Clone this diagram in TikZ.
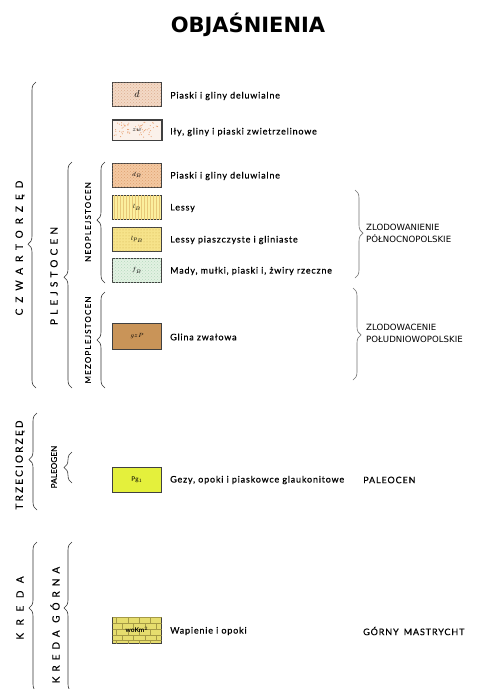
\documentclass[tikz,border=0pt]{standalone}
\usepackage{fontspec}
\setmainfont{Lato}
\newfontfamily\verd{DejaVu Sans}
\newfontfamily\lab[LetterSpace=9,FakeBold=0.4]{Lato}
\newfontfamily\capsA[LetterSpace=60,FakeBold=0.4]{Lato}
\newfontfamily\capsB[LetterSpace=42,FakeBold=0.4]{Lato}
\newfontfamily\capsC[LetterSpace=15,FakeBold=0.4]{Lato}
\newfontfamily\capsD[LetterSpace=22,FakeBold=0.4]{Lato}
\newfontfamily\capsE[LetterSpace=76,FakeBold=0.4]{Lato}
\newfontfamily\capsF[LetterSpace=50,FakeBold=0.4]{Lato}
\newfontfamily\capsG[LetterSpace=10,FakeBold=0.4]{Lato}
\newfontfamily\capsH[LetterSpace=2,FakeBold=0.4]{Lato}
\usetikzlibrary{decorations.pathreplacing,patterns}
\definecolor{cd}{HTML}{F3D9C6}
\definecolor{cdp}{HTML}{DDAE90}
\definecolor{czw}{HTML}{FBF1EA}
\definecolor{czwp}{HTML}{E8A070}
\definecolor{cdb}{HTML}{F4C9A2}
\definecolor{cdbp}{HTML}{DDA070}
\definecolor{clb}{HTML}{FBEF9E}
\definecolor{clbp}{HTML}{E8C878}
\definecolor{clpb}{HTML}{F6E38A}
\definecolor{clpbp}{HTML}{D2B050}
\definecolor{cfb}{HTML}{E2F2E2}
\definecolor{cfbp}{HTML}{B5D8BE}
\definecolor{cgz}{HTML}{C99458}
\definecolor{cpg}{HTML}{E4F03C}
\definecolor{cwo}{HTML}{E6DD6E}
\definecolor{cwop}{HTML}{A59A45}
\begin{document}
\begin{tikzpicture}[x=1pt,y=-1pt,
  legbox/.style={draw=black!75,line width=0.6pt,minimum width=49pt,minimum height=24pt,inner sep=0pt,font=\fontsize{6.5}{6.5}\selectfont},
  desc/.style={anchor=west,inner sep=0pt,font=\lab\fontsize{9}{10}\selectfont},
  lbr/.style={decorate,decoration={brace,amplitude=8pt,aspect=#1},draw=black!80,line width=0.6pt},
  rbr/.style={decorate,decoration={brace,amplitude=8pt,aspect=#1},draw=black!55,line width=0.6pt},
  rlab/.style={anchor=west,inner sep=0pt,align=left,font=\verd\fontsize{8.6}{12}\selectfont},
  vlab/.style={rotate=90,inner sep=0pt}
]
\useasboundingbox (0,0) rectangle (477,689);
\fill[white] (0,0) rectangle (477,689);

% title
\node[font=\verd\bfseries\fontsize{21}{21}\selectfont] (title) at (248,25) {OBJAŚNIENIA};

% boxes
\node[legbox,fill=cd,postaction={pattern=crosshatch dots,pattern color=cdp}] (b1) at (137,94.5) {};
\node at (b1) {$d$};
\node[desc] (t1) at (170,96) {Piaski i gliny deluwialne};

\node[legbox,minimum height=20pt,fill=czw] (b2) at (137,130) {};
\pgfmathsetseed{11}
\foreach \i in {1,...,60}{
  \pgfmathsetmacro\rx{114+45*rnd}
  \pgfmathsetmacro\ry{122+16*rnd}
  \fill[czwp] (\rx,\ry) circle (0.55);
}
\draw[draw=black!75,line width=0.6pt] (b2.north west) rectangle (b2.south east);
\node[font=\fontsize{6.5}{6.5}\selectfont] at (b2) {$zw$};
\node[desc] (t2) at (170,132) {Iły, gliny i piaski zwietrzelinowe};

\node[legbox,fill=cdb,postaction={pattern=crosshatch dots,pattern color=cdbp}] (b3) at (137,175) {};
\node[font=\fontsize{6.5}{6.5}\selectfont] at (b3) {$d_B$};
\node[desc] (t3) at (170,176) {Piaski i gliny deluwialne};

\node[legbox,fill=clb,postaction={pattern=vertical lines,pattern color=clbp}] (b4) at (137,207.5) {};
\node[font=\fontsize{6.5}{6.5}\selectfont] at (b4) {$l_B$};
\node[desc] (t4) at (170,208) {Lessy};

\node[legbox,fill=clpb,postaction={pattern=dots,pattern color=clpbp}] (b5) at (137,239.5) {};
\node[font=\fontsize{6.5}{6.5}\selectfont] at (b5) {$lp_B$};
\node[desc] (t5) at (170,240) {Lessy piaszczyste i gliniaste};

\node[legbox,fill=cfb,postaction={pattern=crosshatch dots,pattern color=cfbp}] (b6) at (137,270.5) {};
\node[font=\fontsize{6.5}{6.5}\selectfont] at (b6) {$f_B$};
\node[desc] (t6) at (170,271) {Mady, mułki, piaski i, żwiry rzeczne};

\node[legbox,minimum height=26pt,fill=cgz] (b7) at (137,336) {};
\node[font=\fontsize{6.5}{6.5}\selectfont] at (b7) {$gzP$};
\node[desc] (t7) at (170,337) {Glina zwałowa};

\node[legbox,minimum height=25pt,fill=cpg] (b8) at (137,479.5) {};
\node[font=\fontsize{6.5}{6.5}\selectfont] at (b8) {P$\mathrm{g}_1$};
\node[desc] (t8) at (170,480) {Gezy, opoki i piaskowce glaukonitowe};
\node[anchor=west,inner sep=0pt,font=\capsG\fontsize{9}{10}\selectfont] (pal) at (363,480) {PALEOCEN};

\node[legbox,minimum height=26pt,fill=cwo,postaction={pattern=bricks,pattern color=cwop}] (b9) at (137,630) {};
\node[font=\bfseries\fontsize{6.5}{6.5}\selectfont] at (b9) {woKm$^2$};
\node[desc] (t9) at (170,631) {Wapienie i opoki};
\node[anchor=west,inner sep=0pt,font=\capsG\fontsize{9}{10}\selectfont] (gm) at (363,631) {GÓRNY\hspace{5pt}MASTRYCHT};

% left braces (bottom -> top, tip points left)
\draw[lbr=0.47] (36,388) -- (36,82);
\node[vlab,font=\capsA\fontsize{10}{10}\selectfont] (czw) at (20,248) {CZWARTORZĘD};
\draw[lbr=0.49] (72,388) -- (72,162);
\node[vlab,font=\capsB\fontsize{10}{10}\selectfont] (plej) at (54,276) {PLEJSTOCEN};
\draw[lbr=0.52] (105,283) -- (105,162);
\node[vlab,font=\capsC\fontsize{8}{8}\selectfont] (neo) at (88,222) {NEOPLEJSTOCEN};
\draw[lbr=0.5] (105,388) -- (105,292);
\node[vlab,font=\capsC\fontsize{8}{8}\selectfont] (mezo) at (88,340) {MEZOPLEJSTOCEN};

\draw[lbr=0.52] (37,510) -- (37,413);
\node[vlab,font=\capsD\fontsize{10}{10}\selectfont] (trz) at (20,465) {TRZECIORZĘD};
\draw[lbr=0.5] (72,483) -- (72,452);
\node[vlab,font=\capsH\fontsize{8}{8}\selectfont] (paleog) at (54,467) {PALEOGEN};

\draw[lbr=0.56] (37,692) -- (37,542);
\node[vlab,font=\capsE\fontsize{10}{10}\selectfont] (kreda) at (20,608) {KREDA};
\draw[lbr=0.56] (72,692) -- (72,542);
\node[vlab,font=\capsF\fontsize{10}{10}\selectfont] (kg) at (55,625) {KREDA GÓRNA};

% right braces (top -> bottom, tip points right)
\draw[rbr=0.49] (355,190) -- (355,278);
\node[rlab] (zp) at (366,233) {ZLODOWANIENIE\\PÓŁNOCNOPOLSKIE};
\draw[rbr=0.51] (353,288) -- (353,380);
\node[rlab] (zs) at (366,333) {ZLODOWACENIE\\POŁUDNIOWOPOLSKIE};
\end{tikzpicture}
\end{document}
